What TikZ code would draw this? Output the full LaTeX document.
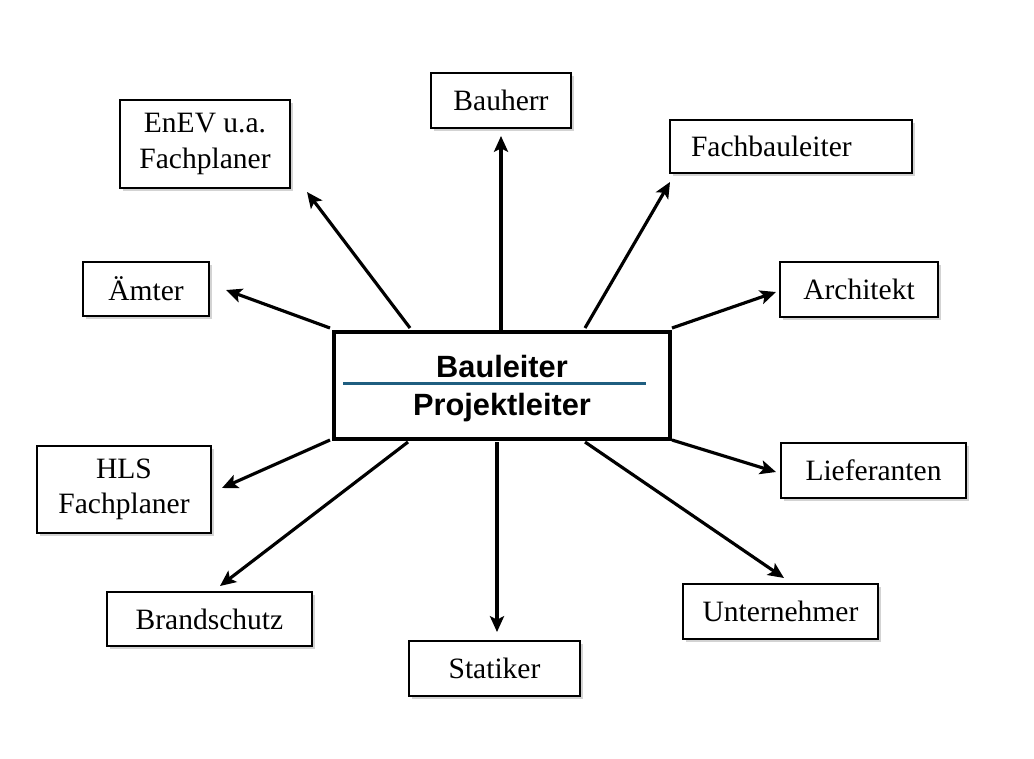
\documentclass[tikz,border=0pt]{standalone}
\usepackage{fontspec}
\setmainfont{Liberation Serif}
\setsansfont{Liberation Sans}
\usetikzlibrary{arrows.meta, shadows}
\definecolor{trennblau}{RGB}{31,94,128}

\begin{document}
\begin{tikzpicture}[x=0.02cm, y=-0.02cm,
    kasten/.style={draw, line width=1.1pt, fill=white, inner sep=0pt,
        align=center, font=\fontsize{16.8}{20}\selectfont,
        drop shadow={shadow xshift=0.06cm, shadow yshift=-0.06cm, opacity=0.35}},
    pfeil/.style={line width=1.8pt, -{Stealth[length=9pt, width=8pt, inset=2pt]}}]
    \useasboundingbox (0,0) rectangle (1034,758);

    % --- Kasten in der Mitte ---
    \node[draw, line width=2.3pt, fill=white, minimum width=6.72cm, minimum height=2.14cm] (pl) at (502,385.5) {};
    \node[anchor=base, font=\sffamily\bfseries\fontsize{17.5}{20}\selectfont] (bl) at (502,377) {Bauleiter};
    \node[anchor=base, font=\sffamily\bfseries\fontsize{17.5}{20}\selectfont] (pj) at (502,415) {Projektleiter};
    \draw[trennblau, line width=2pt] (343,383.5) -- (646,383.5);

    % --- Kästen außen ---
    \node[kasten, minimum width=2.8cm, minimum height=1.1cm] (bauherr) at (501,100.5) {Bauherr};
    \node[kasten, minimum width=3.4cm, minimum height=1.76cm] (enev) at (205,144) {EnEV u.a.\\Fachplaner};
    \node[kasten, text width=4cm, inner xsep=0.42cm, align=left, minimum height=1.06cm] (fachbau) at (791,146.5) {Fachbauleiter};
    \node[kasten, minimum width=2.52cm, minimum height=1.08cm] (aemter) at (146,289) {Ämter};
    \node[kasten, minimum width=3.16cm, minimum height=1.1cm] (architekt) at (859,289.5) {Architekt};
    \node[kasten, minimum width=3.48cm, minimum height=1.74cm] (hls) at (124,489.5) {HLS\\Fachplaner};
    \node[kasten, minimum width=3.7cm, minimum height=1.1cm] (lieferanten) at (873.5,470.5) {Lieferanten};
    \node[kasten, minimum width=4.1cm, minimum height=1.08cm] (brand) at (209.5,619) {Brandschutz};
    \node[kasten, minimum width=3.42cm, minimum height=1.1cm] (statiker) at (494.5,668.5) {Statiker};
    \node[kasten, minimum width=3.9cm, minimum height=1.1cm] (unternehmer) at (780.5,611.5) {Unternehmer};

    % --- Anfangs- und Endpunkte der Pfeile ---
    \coordinate (s-bauherr) at (501,330);   \coordinate (e-bauherr) at (501,136);
    \coordinate (s-enev) at (410,328);      \coordinate (e-enev) at (307,192);
    \coordinate (s-fachbau) at (585,328);   \coordinate (e-fachbau) at (670,182);
    \coordinate (s-aemter) at (330,328);    \coordinate (e-aemter) at (226,290);
    \coordinate (s-architekt) at (672,328); \coordinate (e-architekt) at (776,292);
    \coordinate (s-hls) at (330,440);       \coordinate (e-hls) at (222,488);
    \coordinate (s-liefer) at (672,440);    \coordinate (e-liefer) at (776,472);
    \coordinate (s-brand) at (408,442);     \coordinate (e-brand) at (220,586);
    \coordinate (s-statiker) at (497,442);  \coordinate (e-statiker) at (497,632);
    \coordinate (s-untern) at (585,442);    \coordinate (e-untern) at (784,578);

    % --- Pfeile ---
    \draw[pfeil] (s-bauherr) -- (e-bauherr);
    \draw[pfeil] (s-enev) -- (e-enev);
    \draw[pfeil] (s-fachbau) -- (e-fachbau);
    \draw[pfeil] (s-aemter) -- (e-aemter);
    \draw[pfeil] (s-architekt) -- (e-architekt);
    \draw[pfeil] (s-hls) -- (e-hls);
    \draw[pfeil] (s-liefer) -- (e-liefer);
    \draw[pfeil] (s-brand) -- (e-brand);
    \draw[pfeil] (s-statiker) -- (e-statiker);
    \draw[pfeil] (s-untern) -- (e-untern);
\end{tikzpicture}
\end{document}
